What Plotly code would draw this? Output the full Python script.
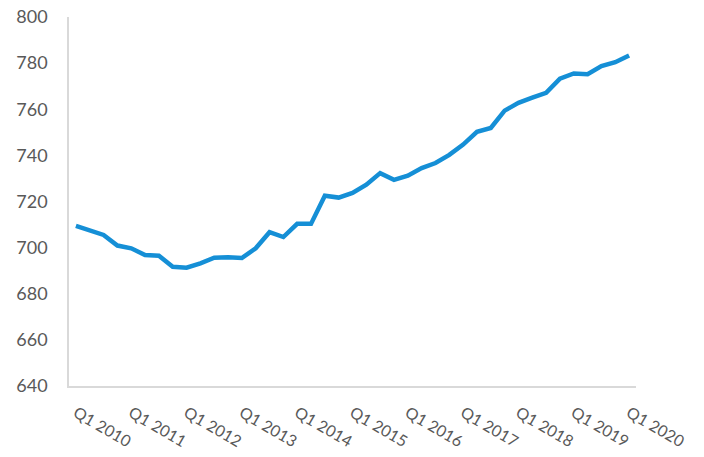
import plotly.graph_objects as go

# Quarterly index values, Q1 2010 .. Q1 2020
quarters = [f"Q{q} {y}" for y in range(2010, 2021) for q in range(1, 5)][:41]
values = [
    709.4, 707.6, 705.5, 700.9, 699.7, 696.8, 696.5, 691.7, 691.3, 693.2,
    695.6, 695.8, 695.5, 699.7, 706.7, 704.6, 710.3, 710.3, 722.5, 721.7,
    723.7, 727.3, 732.3, 729.4, 731.2, 734.5, 736.7, 740.2, 744.7, 750.2,
    751.9, 759.4, 762.8, 765.0, 767.1, 773.3, 775.5, 775.2, 778.7, 780.4,
    783.3,
]
year_ticks = quarters[::4]
y_ticks = [640, 660, 680, 700, 720, 740, 760, 780, 800]

fig = go.Figure(
    go.Scatter(
        x=quarters,
        y=values,
        mode="lines",
        line=dict(color="#158fd6", width=4.5),
        hoverinfo="x+y",
    )
)

fig.update_layout(
    width=704,
    height=457,
    margin=dict(l=69, r=68, t=17, b=71),
    paper_bgcolor="white",
    plot_bgcolor="white",
    showlegend=False,
    font=dict(family="Lato, Open Sans, sans-serif", color="#595959"),
)

fig.update_xaxes(
    type="category",
    range=[-0.5, len(quarters) - 0.5],
    tickvals=year_ticks,
    ticktext=year_ticks,
    tickangle=30,
    tickfont=dict(size=16, color="#595959"),
    showgrid=False,
    showline=True,
    linecolor="#d9d9d9",
    linewidth=1.5,
    ticks="",
    ticklabelstandoff=10,
    automargin=False,
)

fig.update_yaxes(
    range=[640, 800],
    tickvals=y_ticks,
    tickfont=dict(size=18, color="#595959"),
    showgrid=False,
    zeroline=False,
    showline=True,
    linecolor="#d9d9d9",
    linewidth=1.5,
    ticks="",
    ticklabelstandoff=16,
    automargin=False,
)

fig.write_html("out.html")
